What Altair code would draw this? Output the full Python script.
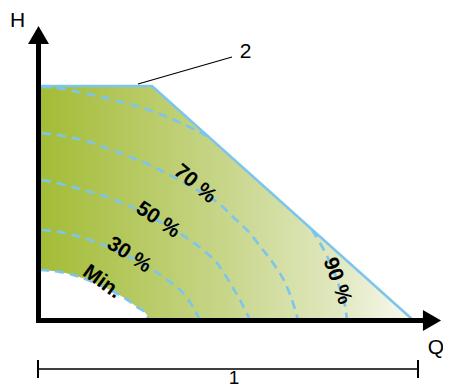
import altair as alt
import pandas as pd

# ---- envelope of the operating range (max curve, marked "2") ----
env_q = [0, 112, 373]
env_h = [234, 234, 0]

# ---- dashed speed curves (Q, H) ----
c90a_q = [2, 23, 43, 70, 117, 143, 167]
c90a_h = [233, 231, 227, 221, 207, 196, 184]
c90b_q = [272, 280, 292, 300, 306, 307]
c90b_h = [90, 77, 53, 31, 8, 0]
c70_q = [2, 17, 33, 50, 63, 78, 93, 110, 120, 150, 183, 193, 207, 223, 233, 247, 253, 258]
c70_h = [187, 185, 182, 178, 173, 168, 162, 155, 150, 134, 113, 103, 90, 70, 57, 33, 17, 0]
c50_q = [2, 17, 33, 50, 67, 80, 98, 117, 147, 163, 177, 190, 200, 210]
c50_h = [140, 137, 133, 128, 123, 118, 110, 100, 82, 70, 57, 37, 20, 0]
c30_q = [2, 20, 33, 50, 63, 88, 113, 130, 143, 153, 160]
c30_h = [90, 88, 85, 80, 75, 64, 50, 38, 27, 13, 0]
cmin_q = [0, 20, 33, 55, 70, 83, 97, 107, 108]
cmin_h = [50, 48, 45, 37, 30, 23, 13, 5, 0]

# ---- labels ----
curve_labels = ["70 %", "50 %", "30 %", "Min.", "90 %"]
curve_label_q = [155, 118, 89, 62, 297]
curve_label_h = [136, 100, 65, 38, 39]
curve_label_angle = [40, 34, 33, 36, 70]

axis_labels = ["H", "Q", "2"]
axis_label_q = [-22.5, 396, 205.5]
axis_label_h = [299.5, -28, 268.5]
dim_label = ["1"]
dim_label_q = [194]
dim_label_h = [-57.5]

# ---- axis arrows, leader line, dimension line ----
axis_line_q = [-1.5, -4]
axis_line_h = [-3, -0.5]
axis_line_q2 = [-1.5, 383]
axis_line_h2 = [276, -0.5]
arrow_q = [-1.5, 392]
arrow_h = [285, -0.5]
arrow_shape = ["triangle-up", "triangle-right"]

leader_q, leader_h, leader_q2, leader_h2 = [98], [236], [192], [263]
dim_q, dim_h, dim_q2, dim_h2 = [-2], [-49], [378], [-49]
dimtick_q = [-2, 378]
dimtick_h = [-40, -40]
dimtick_h2 = [-58, -58]

BLUE = "#7cc5ec"
xs = alt.Scale(domain=[-32, 403], nice=False, zero=False)
ys = alt.Scale(domain=[-67, 312], nice=False, zero=False)


def X(f="q"):
    return alt.X(f + ":Q", scale=xs, axis=None)


def Y(f="h"):
    return alt.Y(f + ":Q", scale=ys, axis=None)


env_df = pd.DataFrame({"q": env_q, "h": env_h, "base": [0] * len(env_q)})
min_df = pd.DataFrame({"q": cmin_q, "h": cmin_h, "base": [0] * len(cmin_q)})

rows = []
for name, qs, hs in [("90a", c90a_q, c90a_h), ("90b", c90b_q, c90b_h),
                     ("70", c70_q, c70_h), ("50", c50_q, c50_h),
                     ("30", c30_q, c30_h), ("min", cmin_q, cmin_h)]:
    for i, (q, h) in enumerate(zip(qs, hs)):
        rows.append({"seg": name, "q": q, "h": h, "i": i})
curves_df = pd.DataFrame(rows)

grad = alt.Gradient(
    gradient="linear",
    stops=[
        alt.GradientStop(color="#a3bc36", offset=0),
        alt.GradientStop(color="#c8d68b", offset=0.5),
        alt.GradientStop(color="#e1e8c0", offset=0.8),
        alt.GradientStop(color="#f8faf0", offset=1),
    ],
    x1=0, x2=1, y1=0, y2=0,
)

green = alt.Chart(env_df).mark_area(color=grad, interpolate="linear").encode(
    x=X(), y=Y(), y2=alt.Y2("base:Q"))
white = alt.Chart(min_df).mark_area(color="white", interpolate="monotone").encode(
    x=X(), y=Y(), y2=alt.Y2("base:Q"))
dashed = alt.Chart(curves_df).mark_line(
    color=BLUE, strokeWidth=2.6, strokeDash=[9, 6], interpolate="monotone"
).encode(x=X(), y=Y(), detail="seg:N", order="i:Q")
env_line = alt.Chart(env_df).mark_line(color=BLUE, strokeWidth=2.5).encode(x=X(), y=Y())

axes_df = pd.DataFrame({"q": axis_line_q, "h": axis_line_h, "q2": axis_line_q2, "h2": axis_line_h2})
axes = alt.Chart(axes_df).mark_rule(color="black", strokeWidth=5).encode(
    x=X(), y=Y(), x2="q2:Q", y2="h2:Q")
arrow_df = pd.DataFrame({"q": arrow_q, "h": arrow_h, "shape": arrow_shape})
arrows = alt.Chart(arrow_df).mark_point(filled=True, color="black", opacity=1, size=440).encode(
    x=X(), y=Y(), shape=alt.Shape("shape:N", scale=None))

lines_df = pd.DataFrame({
    "q": leader_q + dim_q + dimtick_q,
    "h": leader_h + dim_h + dimtick_h,
    "q2": leader_q2 + dim_q2 + dimtick_q,
    "h2": leader_h2 + dim_h2 + dimtick_h2,
    "w": [1.2, 1.5, 2, 2],
})
lines = alt.Chart(lines_df).mark_rule(color="black").encode(
    x=X(), y=Y(), x2="q2:Q", y2="h2:Q", strokeWidth=alt.StrokeWidth("w:Q", scale=None))

cl_df = pd.DataFrame({"t": curve_labels, "q": curve_label_q, "h": curve_label_h, "a": curve_label_angle})
curve_text = alt.Chart(cl_df).mark_text(
    font="Liberation Sans", fontSize=21, fontWeight="bold", color="black",
    align="center", baseline="middle"
).encode(x=X(), y=Y(), text="t:N", angle=alt.Angle("a:Q", scale=None))

al_df = pd.DataFrame({"t": axis_labels, "q": axis_label_q, "h": axis_label_h})
axis_text = alt.Chart(al_df).mark_text(
    font="Liberation Sans", fontSize=21, color="black", align="center", baseline="middle"
).encode(x=X(), y=Y(), text="t:N")

dl_df = pd.DataFrame({"t": dim_label, "q": dim_label_q, "h": dim_label_h})
dim_text = alt.Chart(dl_df).mark_text(
    font="Liberation Sans", fontSize=19, color="black", align="center", baseline="middle"
).encode(x=X(), y=Y(), text="t:N")

chart = alt.layer(
    green, white, dashed, env_line, axes, arrows, lines, curve_text, axis_text, dim_text
).properties(
    width=435, height=379, padding=0, autosize=alt.AutoSizeParams(type="none")
).configure_view(strokeWidth=0)

chart.save("out.html", embed_options={"renderer": "svg", "actions": False})
